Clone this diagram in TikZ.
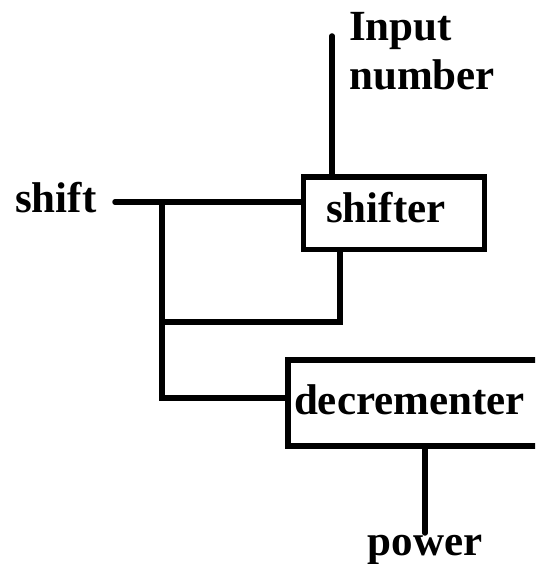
\documentclass[tikz,border=0pt]{standalone}
\usepackage{fontspec}
\setmainfont{Liberation Serif}
\usepackage{tikz}
\usetikzlibrary{positioning,calc}

\begin{document}
\begin{tikzpicture}[
    x=1pt, y=-1pt,
    unit/.style={
        rectangle, draw, line width=5.5pt,
        align=left, inner ysep=0pt,
        font=\fontsize{43}{49}\selectfont\bfseries
    },
    lbl/.style={
        inner sep=0pt, align=left,
        font=\fontsize{43}{49}\selectfont\bfseries
    },
    wire/.style={line width=5.5pt, line cap=round}
    ]
    \clip (0,0) rectangle (535,564);

    % shifter
    \node[unit, text width=135pt, inner xsep=23pt, minimum height=72.5pt,
        text height=28pt, text depth=10.5pt] (shifter) at (393.75,213.25) {shifter};

    % decrementer (runs off the right edge)
    \node[unit, text width=248pt, inner xsep=6pt, minimum height=86pt,
        text height=28pt, text depth=6pt] (decrementer) at (418,403) {decrementer};

    % wire ends
    \coordinate (shiftin) at (115,202);
    \coordinate (numin) at (332,36);
    \coordinate (busbot) at (162,398);
    \coordinate (fbk) at (340,322);
    \coordinate (powout) at (425,533);

    % labels
    \node[lbl, anchor=base west] (shiftlabel) at (15,212) {shift};
    \node[lbl, anchor=north west] (inputlabel) at (349,12) {Input\\number};
    \node[lbl, below=2pt of powout] (powerlabel) {power};

    % wires
    \draw[wire] (shiftin) -- (shiftin -| shifter.west);
    \draw[wire] (numin) -- (numin |- shifter.north);
    \draw[wire] (shiftin -| busbot) -- (busbot) -- (busbot -| decrementer.west);
    \draw[wire] (fbk |- shifter.south) -- (fbk) -- (fbk -| busbot);
    \draw[wire] (powout |- decrementer.south) -- (powout);
\end{tikzpicture}
\end{document}
